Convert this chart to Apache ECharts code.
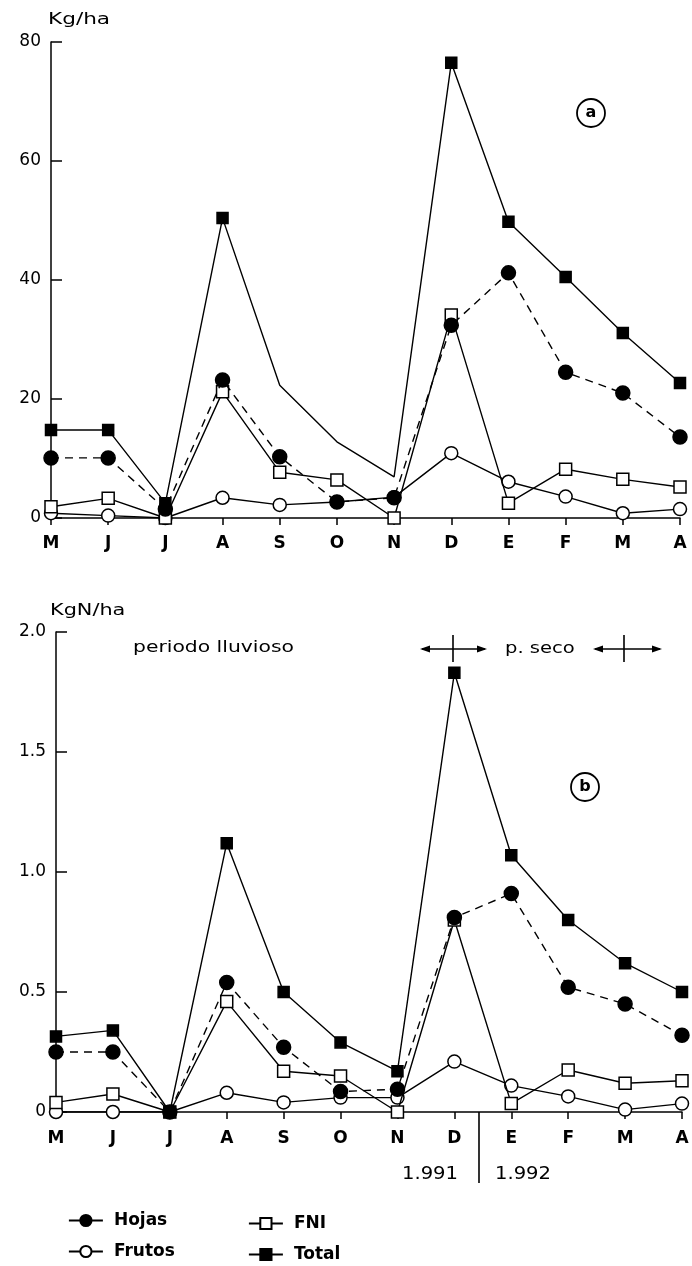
<!DOCTYPE html>
<html>
<head>
<meta charset="utf-8">
<script src="https://cdn.jsdelivr.net/npm/echarts@6/dist/echarts.min.js"></script>
<style>
  html, body { margin: 0; padding: 0; background: #fff; }
  #main { width: 692px; height: 1266px; }
</style>
</head>
<body>
<div id="main"></div>
<script>
// meses (mayo 1991 - abril 1992)
var months = ['M', 'J', 'J', 'A', 'S', 'O', 'N', 'D', 'E', 'F', 'M', 'A'];

// (a) biomasa, Kg/ha
var hojasA  = [10.1, 10.1, 1.5, 23.2, 10.3, 2.7, 3.4, 32.4, 41.2, 24.5, 21.0, 13.6];
var frutosA = [0.8, 0.4, 0, 3.4, 2.2, 2.7, 3.5, 10.9, 6.1, 3.6, 0.8, 1.5];
var fniA    = [1.9, 3.3, 0, 21.2, 7.7, 6.4, 0, 34.1, 2.5, 8.2, 6.5, 5.2];
var totalA  = [14.8, 14.8, 2.5, 50.4, 22.3, 12.8, 6.9, 76.5, 49.8, 40.5, 31.1, 22.7];
var totalANoMark = [4, 5, 6]; // puntos sin simbolo en la grafica original

// (b) nitrogeno, KgN/ha
var hojasB  = [0.25, 0.25, 0, 0.54, 0.27, 0.085, 0.095, 0.81, 0.91, 0.52, 0.45, 0.32];
var frutosB = [0, 0, 0, 0.08, 0.04, 0.06, 0.06, 0.21, 0.11, 0.065, 0.01, 0.035];
var fniB    = [0.04, 0.075, 0, 0.46, 0.17, 0.15, 0, 0.80, 0.035, 0.175, 0.12, 0.13];
var totalB  = [0.315, 0.34, 0, 1.12, 0.5, 0.29, 0.17, 1.83, 1.07, 0.80, 0.62, 0.50];

// ejes
var ticksA = [0, 20, 40, 60, 80];
var ticksB = [0, 0.5, 1.0, 1.5, 2.0];

var FONT = 'DejaVu Sans';

// estilos de cada serie
var styles = {
  Hojas:  { symbol: 'circle', size: 14, fill: '#000', dash: [8, 6], z: 4 },
  Frutos: { symbol: 'circle', size: 13, fill: '#fff', dash: 'solid', z: 2 },
  FNI:    { symbol: 'rect',   size: 12, fill: '#fff', dash: 'solid', z: 3 },
  Total:  { symbol: 'rect',   size: 11, fill: '#000', dash: 'solid', z: 5 }
};

function makeSeries(name, values, idx, noMark) {
  var st = styles[name];
  var data = values.map(function (v, i) {
    if (noMark && noMark.indexOf(i) >= 0) {
      return { value: v, symbol: 'none' };
    }
    return v;
  });
  return {
    name: name,
    type: 'line',
    xAxisIndex: idx,
    yAxisIndex: idx,
    data: data,
    symbol: st.symbol,
    symbolSize: st.size,
    showAllSymbol: true,
    z: st.z,
    animation: false,
    itemStyle: { color: st.fill, borderColor: '#000', borderWidth: 1.5 },
    lineStyle: { color: '#000', width: 1.4, type: st.dash },
    emphasis: { disabled: true }
  };
}

function xAxisCfg(idx, margin) {
  return {
    type: 'category',
    gridIndex: idx,
    data: months,
    boundaryGap: false,
    axisLine: { lineStyle: { color: '#000', width: 1.5 } },
    axisTick: { show: true, inside: false, length: 7, lineStyle: { color: '#000', width: 1.5 } },
    axisLabel: { interval: 0, margin: margin, color: '#000', fontFamily: FONT, fontSize: 17, fontWeight: 'bold' },
    splitLine: { show: false }
  };
}

function yAxisCfg(idx, ticks, fmt) {
  return {
    type: 'value',
    gridIndex: idx,
    min: ticks[0],
    max: ticks[ticks.length - 1],
    interval: ticks[1] - ticks[0],
    axisLine: { show: true, lineStyle: { color: '#000', width: 1.5 } },
    axisTick: { show: true, inside: true, length: 11, lineStyle: { color: '#000', width: 1.5 } },
    axisLabel: { margin: 10, color: '#000', fontFamily: FONT, fontSize: 17, formatter: fmt },
    splitLine: { show: false }
  };
}

function label(text, x, y, size, sx, weight) {
  return {
    type: 'text', x: x, y: y, scaleX: sx || 1, z: 10,
    style: {
      text: text, fill: '#000',
      font: (weight || 'normal') + ' ' + size + 'px "' + FONT + '"',
      textAlign: 'left', textVerticalAlign: 'middle',
      align: 'left', verticalAlign: 'middle'
    }
  };
}

function seg(x1, y1, x2, y2) {
  return { type: 'line', z: 10, shape: { x1: x1, y1: y1, x2: x2, y2: y2 }, style: { stroke: '#000', lineWidth: 1.6 } };
}

function cross(cx, x1, x2, cy) {
  return [
    seg(x1, cy, x2, cy),
    seg(cx, cy - 14, cx, cy + 13),
    { type: 'polygon', z: 10, shape: { points: [[x1 - 2, cy], [x1 + 8, cy - 3.5], [x1 + 8, cy + 3.5]] }, style: { fill: '#000' } },
    { type: 'polygon', z: 10, shape: { points: [[x2 + 2, cy], [x2 - 8, cy - 3.5], [x2 - 8, cy + 3.5]] }, style: { fill: '#000' } }
  ];
}

function circled(letter, cx, cy) {
  return [
    { type: 'circle', z: 10, shape: { cx: cx, cy: cy, r: 14 }, style: { fill: 'none', stroke: '#000', lineWidth: 1.8 } },
    {
      type: 'text', x: cx, y: cy, z: 10,
      style: { text: letter, fill: '#000', font: 'bold 16px "' + FONT + '"', textAlign: 'center', textVerticalAlign: 'middle', align: 'center', verticalAlign: 'middle' }
    }
  ];
}

var graphics = [
  label('Kg/ha', 48, 20, 16, 1.35),
  label('KgN/ha', 50, 611, 16, 1.3),
  label('periodo lluvioso', 133, 648, 16, 1.27),
  label('p. seco', 505, 649, 16, 1.22),
  label('1.991', 402, 1175, 17, 1.15),
  label('1.992', 495, 1175, 17, 1.15),
  seg(479, 1112, 479, 1183)
].concat(cross(453, 422, 485, 649))
 .concat(cross(624, 595, 660, 649))
 .concat(circled('a', 591, 113))
 .concat(circled('b', 585, 787));

// una leyenda por serie para ubicarlas como en el original
function legendItem(name, left, top) {
  return {
    left: left, top: top, padding: 0,
    itemWidth: 34, itemHeight: 14,
    selectedMode: false, data: [name],
    textStyle: { color: '#000', fontFamily: FONT, fontSize: 17, fontWeight: 'bold', padding: [0, 0, 0, 6] },
    lineStyle: { type: 'solid', width: 1.8 }
  };
}

var option = {
  backgroundColor: '#fff',
  animation: false,
  grid: [
    { left: 51, right: 12, top: 42, height: 476 },
    { left: 56, right: 10, top: 632, height: 480 }
  ],
  xAxis: [xAxisCfg(0, 17), xAxisCfg(1, 18)],
  yAxis: [
    yAxisCfg(0, ticksA, function (v) { return String(v); }),
    yAxisCfg(1, ticksB, function (v) { return v === 0 ? '0' : v.toFixed(1); })
  ],
  legend: [
    legendItem('Hojas', 68, 1212),
    legendItem('Frutos', 68, 1243),
    legendItem('FNI', 248, 1215),
    legendItem('Total', 248, 1246)
  ],
  series: [
    makeSeries('Frutos', frutosA, 0),
    makeSeries('FNI', fniA, 0),
    makeSeries('Hojas', hojasA, 0),
    makeSeries('Total', totalA, 0, totalANoMark),
    makeSeries('Frutos', frutosB, 1),
    makeSeries('FNI', fniB, 1),
    makeSeries('Hojas', hojasB, 1),
    makeSeries('Total', totalB, 1)
  ],
  graphic: graphics
};

var myChart = echarts.init(document.getElementById('main'));
myChart.setOption(option);
</script>
</body>
</html>
